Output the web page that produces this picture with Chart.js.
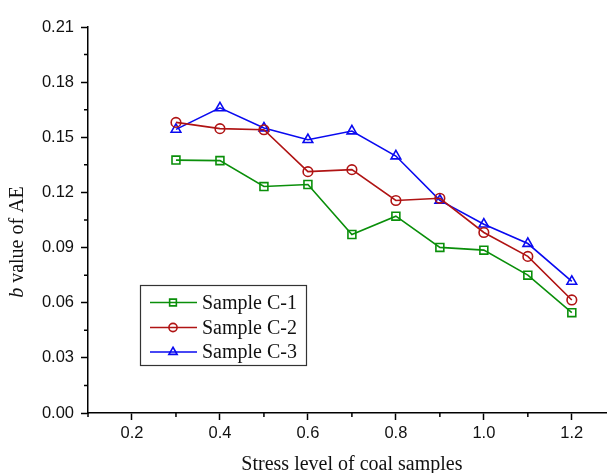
<!DOCTYPE html>
<html>
<head>
<meta charset="utf-8">
<script src="https://cdn.jsdelivr.net/npm/chart.js@4.4.1/dist/chart.umd.min.js"></script>
<style>
html,body{margin:0;padding:0;background:#fff;overflow:hidden;}
#wrap{width:623px;height:473px;}
</style>
</head>
<body>
<div id="wrap"><canvas id="c" width="623" height="473"></canvas></div>
<script>
// ---- data ----
const stressLevels = [0.3, 0.4, 0.5, 0.6, 0.7, 0.8, 0.9, 1.0, 1.1, 1.2];
const sampleC1 = [0.1376, 0.1373, 0.1232, 0.1243, 0.0971, 0.1071, 0.0901, 0.0886, 0.0750, 0.0546];
const sampleC2 = [0.1581, 0.1547, 0.1541, 0.1313, 0.1324, 0.1156, 0.1168, 0.0982, 0.0852, 0.0615];
const sampleC3 = [0.1543, 0.1660, 0.1550, 0.1487, 0.1534, 0.1398, 0.1157, 0.1027, 0.0922, 0.0716];
const seriesNames = ['Sample C-1', 'Sample C-2', 'Sample C-3'];
const xTickValues = [0.2, 0.4, 0.6, 0.8, 1.0, 1.2];
const xMinorValues = [0.1, 0.3, 0.5, 0.7, 0.9, 1.1, 1.3];
const yTickValues = [0.00, 0.03, 0.06, 0.09, 0.12, 0.15, 0.18, 0.21];
const yMinorValues = [0.015, 0.045, 0.075, 0.105, 0.135, 0.165, 0.195];
const xTitle = 'Stress level of coal samples';
const yTitleItalic = 'b';
const yTitleRest = ' value of AE';

const colors = ['#0a8f0a', '#b01414', '#0a0af0'];
const shapes = ['rect', 'circle', 'triangle'];
const radii = [5.6, 4.8, 5.6];

const toPts = arr => arr.map((v, i) => ({x: stressLevels[i], y: v}));
const datasets = [sampleC1, sampleC2, sampleC3].map((arr, i) => ({
  label: seriesNames[i],
  data: toPts(arr),
  borderColor: colors[i],
  backgroundColor: 'rgba(0,0,0,0)',
  borderWidth: 1.6,
  pointStyle: shapes[i],
  pointRadius: radii[i],
  pointHoverRadius: radii[i],
  pointBorderColor: colors[i],
  pointBackgroundColor: 'rgba(0,0,0,0)',
  pointBorderWidth: 1.6,
  tension: 0
}));

const tickFont = {family: '"Liberation Sans", Arial, sans-serif', size: 16.5};
const serif = '"Liberation Serif", "Times New Roman", serif';

const extras = {
  id: 'extras',
  afterDraw(chart) {
    const ctx = chart.ctx;
    const xs = chart.scales.x, ys = chart.scales.y;
    const area = chart.chartArea;
    ctx.save();
    // minor ticks
    ctx.strokeStyle = '#000';
    ctx.lineWidth = 1.5;
    ctx.beginPath();
    xMinorValues.forEach(v => {
      const px = xs.getPixelForValue(v);
      ctx.moveTo(px, area.bottom);
      ctx.lineTo(px, area.bottom + 4);
    });
    yMinorValues.forEach(v => {
      const py = ys.getPixelForValue(v);
      ctx.moveTo(area.left, py);
      ctx.lineTo(area.left - 4, py);
    });
    ctx.stroke();

    // x title
    ctx.fillStyle = '#111';
    ctx.font = '20px ' + serif;
    ctx.textAlign = 'center';
    ctx.textBaseline = 'alphabetic';
    ctx.fillText(xTitle, (area.left + area.right) / 2, 469.5);

    // y title
    ctx.save();
    ctx.translate(23, 242);
    ctx.rotate(-Math.PI / 2);
    ctx.font = 'italic 20px ' + serif;
    const w1 = ctx.measureText(yTitleItalic).width;
    ctx.font = '20px ' + serif;
    const w2 = ctx.measureText(yTitleRest).width;
    let sx = -(w1 + w2) / 2;
    ctx.textAlign = 'left';
    ctx.font = 'italic 20px ' + serif;
    ctx.fillText(yTitleItalic, sx, 0);
    ctx.font = '20px ' + serif;
    ctx.fillText(yTitleRest, sx + w1, 0);
    ctx.restore();

    // legend
    const bx = 140, by = 285, bw = 166, bh = 80;
    ctx.fillStyle = '#fff';
    ctx.fillRect(bx, by, bw, bh);
    ctx.strokeStyle = '#333';
    ctx.lineWidth = 1.2;
    ctx.strokeRect(bx + 0.5, by + 0.5, bw, bh);
    const rows = [302.5, 327.5, 352];
    chart.data.datasets.forEach((ds, i) => {
      const y = rows[i];
      ctx.strokeStyle = ds.borderColor;
      ctx.lineWidth = 1.6;
      ctx.beginPath();
      ctx.moveTo(150, y);
      ctx.lineTo(197, y);
      ctx.stroke();
      ctx.fillStyle = 'rgba(0,0,0,0)';
      ctx.strokeStyle = ds.borderColor;
      Chart.helpers.drawPoint(ctx, {pointStyle: ds.pointStyle, rotation: 0, borderWidth: 1.5, radius: ds.pointRadius * 0.85}, 173, y);
      ctx.fillStyle = '#111';
      ctx.font = '20px ' + serif;
      ctx.textAlign = 'left';
      ctx.textBaseline = 'middle';
      ctx.fillText(ds.label, 202, y + 1);
    });
    ctx.restore();
  }
};

new Chart(document.getElementById('c'), {
  type: 'line',
  data: {datasets},
  options: {
    responsive: false,
    animation: false,
    layout: {padding: {left: 0, top: 27, right: 1, bottom: 0}},
    plugins: {legend: {display: false}, tooltip: {enabled: false}},
    scales: {
      x: {
        type: 'linear',
        min: 0.1,
        max: 1.3,
        afterBuildTicks: s => { s.ticks = xTickValues.map(v => ({value: v})); },
        afterFit: s => { s.height = 60; },
        ticks: {
          autoSkip: false, maxRotation: 0, color: '#111', font: tickFont, padding: 4,
          callback: v => Number(v).toFixed(1)
        },
        grid: {display: true, drawOnChartArea: false, drawTicks: true, tickLength: 7, tickColor: '#000', tickWidth: 1.5},
        border: {display: true, color: '#000', width: 1.5}
      },
      y: {
        type: 'linear',
        min: 0,
        max: 0.21,
        afterBuildTicks: s => { s.ticks = yTickValues.map(v => ({value: v})); },
        afterFit: s => { s.width = 88; },
        ticks: {
          autoSkip: false, color: '#111', font: tickFont, padding: 7,
          callback: v => Number(v).toFixed(2)
        },
        grid: {display: true, drawOnChartArea: false, drawTicks: true, tickLength: 7, tickColor: '#000', tickWidth: 1.5},
        border: {display: true, color: '#000', width: 1.5}
      }
    }
  },
  plugins: [extras]
});
</script>
</body>
</html>
